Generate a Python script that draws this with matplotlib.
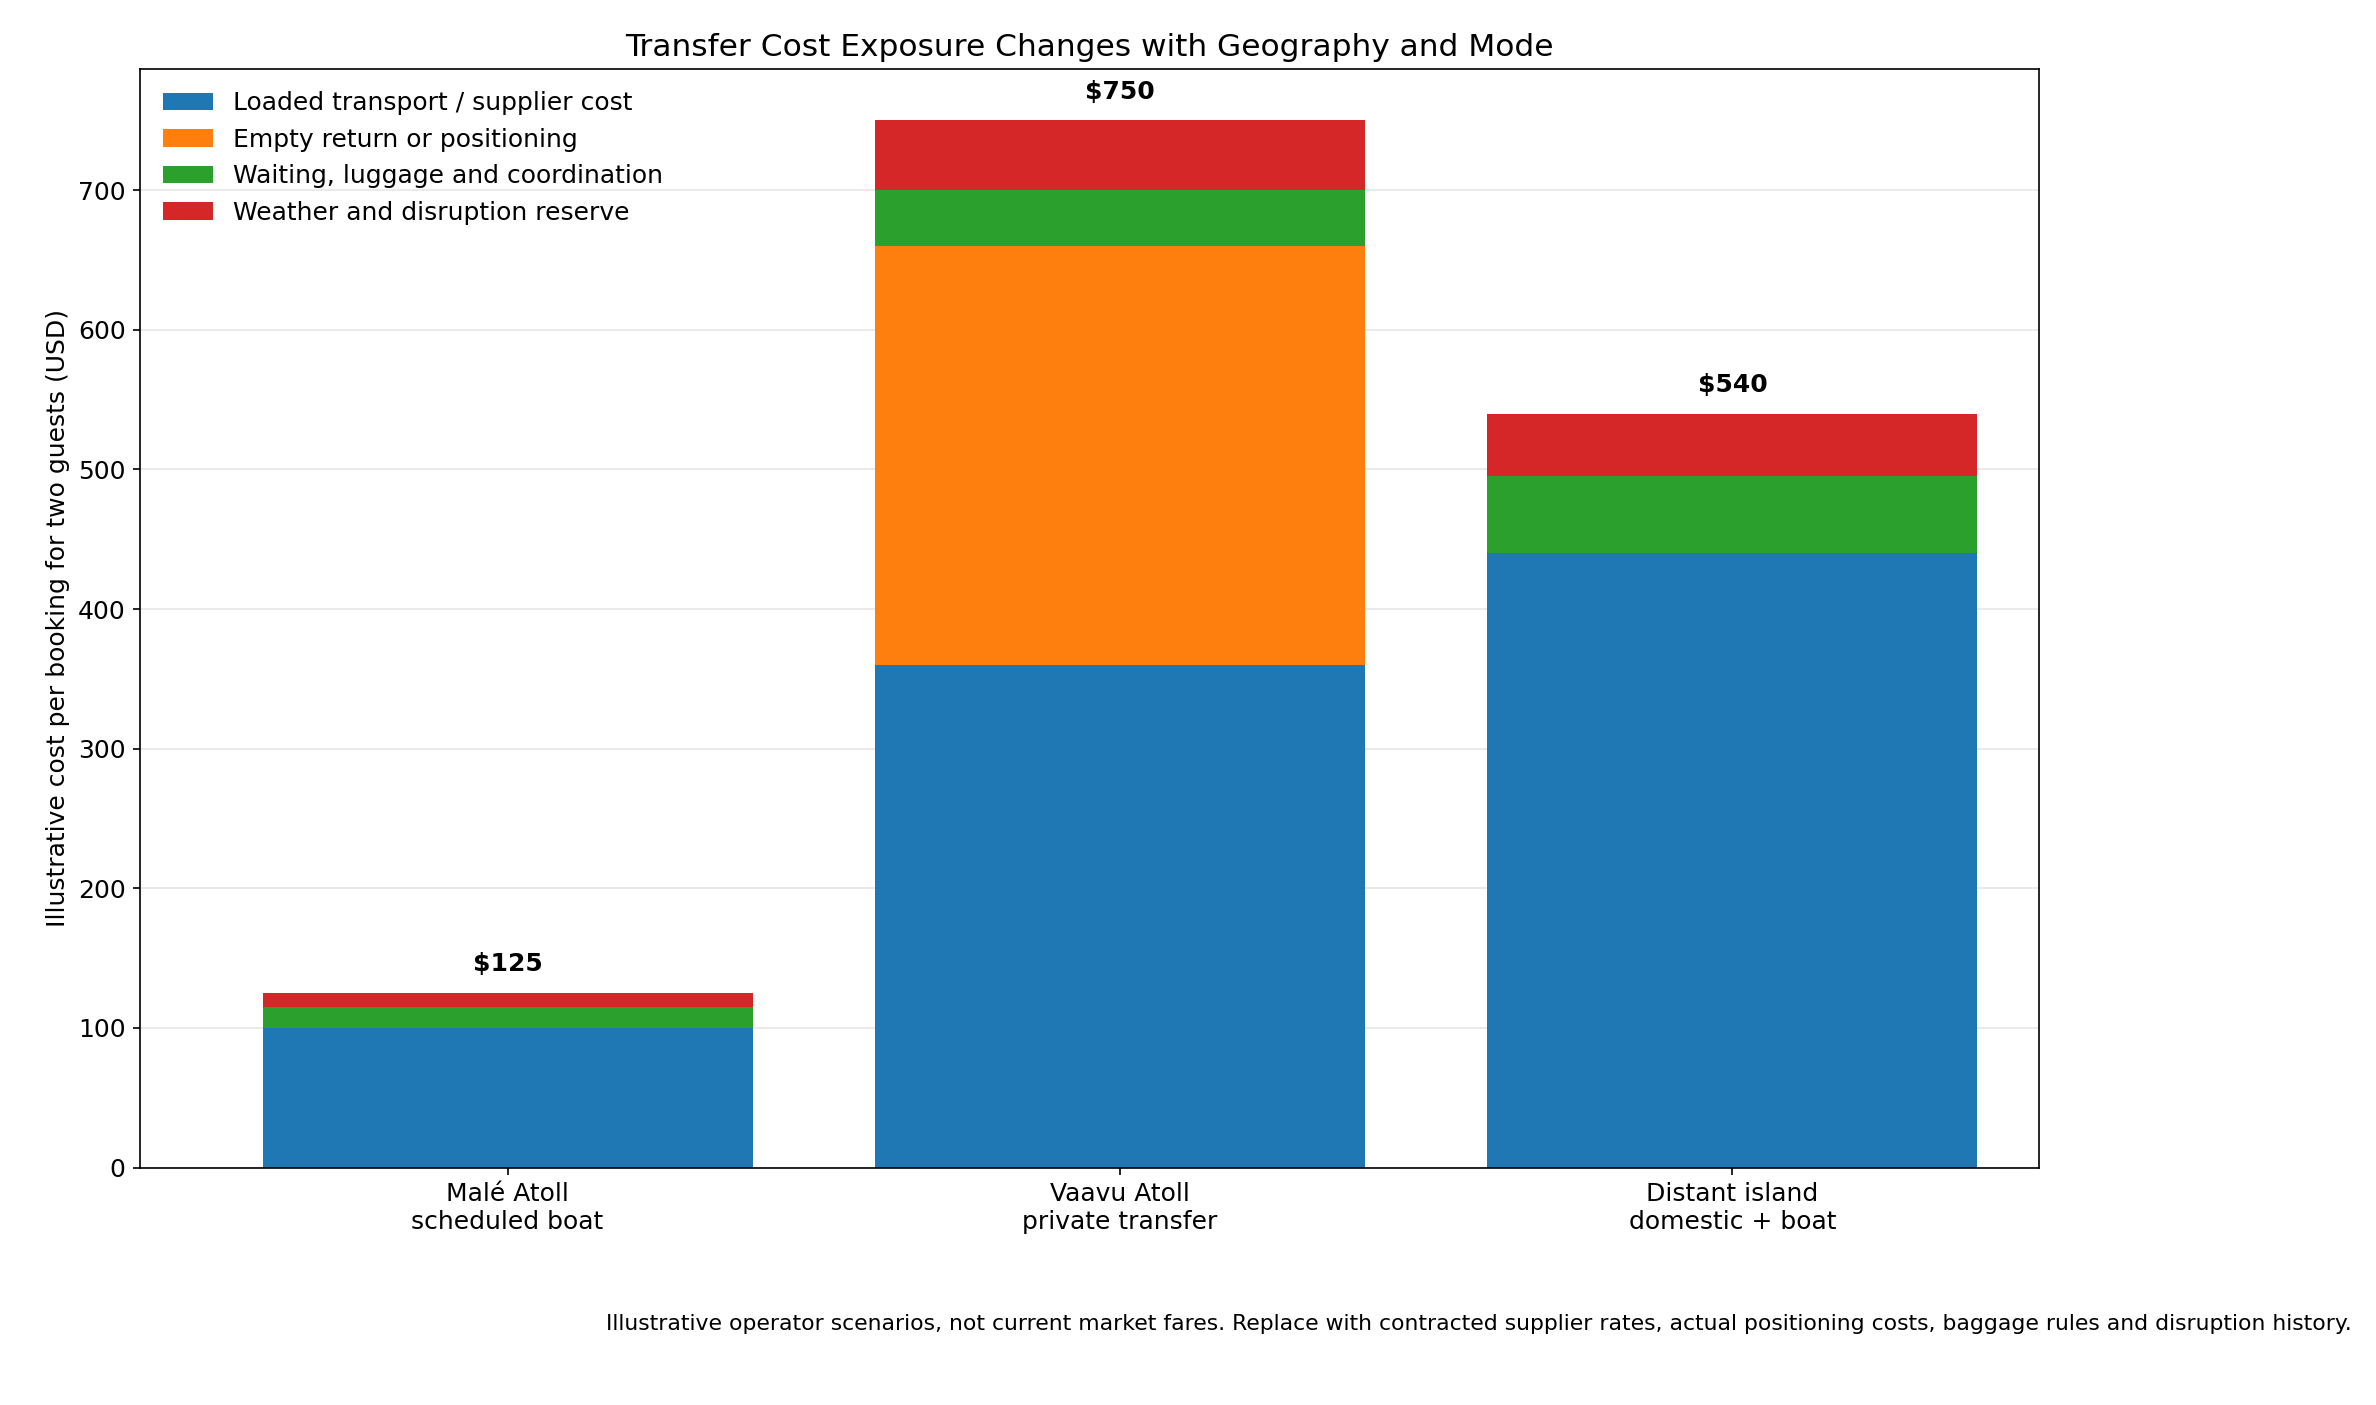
import matplotlib
matplotlib.use("Agg")
import matplotlib.pyplot as plt
import numpy as np

categories = ["Malé Atoll\nscheduled boat", "Vaavu Atoll\nprivate transfer", "Distant island\ndomestic + boat"]
loaded = [100, 360, 440]
empty = [0, 300, 0]
waiting = [15, 40, 55]
weather = [10, 50, 45]
labels = ["Loaded transport / supplier cost", "Empty return or positioning",
          "Waiting, luggage and coordination", "Weather and disruption reserve"]
colors = ["#1f77b4", "#ff7f0e", "#2ca02c", "#d62728"]

fig = plt.figure(figsize=(15.84, 9.367), dpi=150)
ax = fig.add_axes([0.059, 0.169, 0.799, 0.782])
x = np.arange(len(categories))
bottom = np.zeros(len(categories))
for vals, lab, c in zip([loaded, empty, waiting, weather], labels, colors):
    ax.bar(x, vals, 0.8, bottom=bottom, color=c, label=lab)
    bottom += np.array(vals)
for xi, t in zip(x, bottom):
    ax.text(xi, t + 12, f"${int(t)}", ha="center", va="bottom", fontweight="bold", fontsize=12)
ax.set_xticks(x)
ax.set_xticklabels(categories, fontsize=12)
ax.tick_params(axis="y", labelsize=12)
ax.set_ylim(0, 787)
ax.set_xlim(-0.6, 2.5)
ax.yaxis.grid(True, color="#e6e6e6")
ax.set_axisbelow(True)
ax.set_ylabel("Illustrative cost per booking for two guests (USD)", fontsize=12)
ax.set_title("Transfer Cost Exposure Changes with Geography and Mode", fontsize=15)
ax.legend(loc="upper left", frameon=False, fontsize=12)
fig.text(0.99, 0.058, "Illustrative operator scenarios, not current market fares. Replace with contracted supplier rates, actual positioning costs, baggage rules and disruption history.",
         ha="right", va="center", fontsize=10.5)
fig.savefig("out.png", dpi=150)
